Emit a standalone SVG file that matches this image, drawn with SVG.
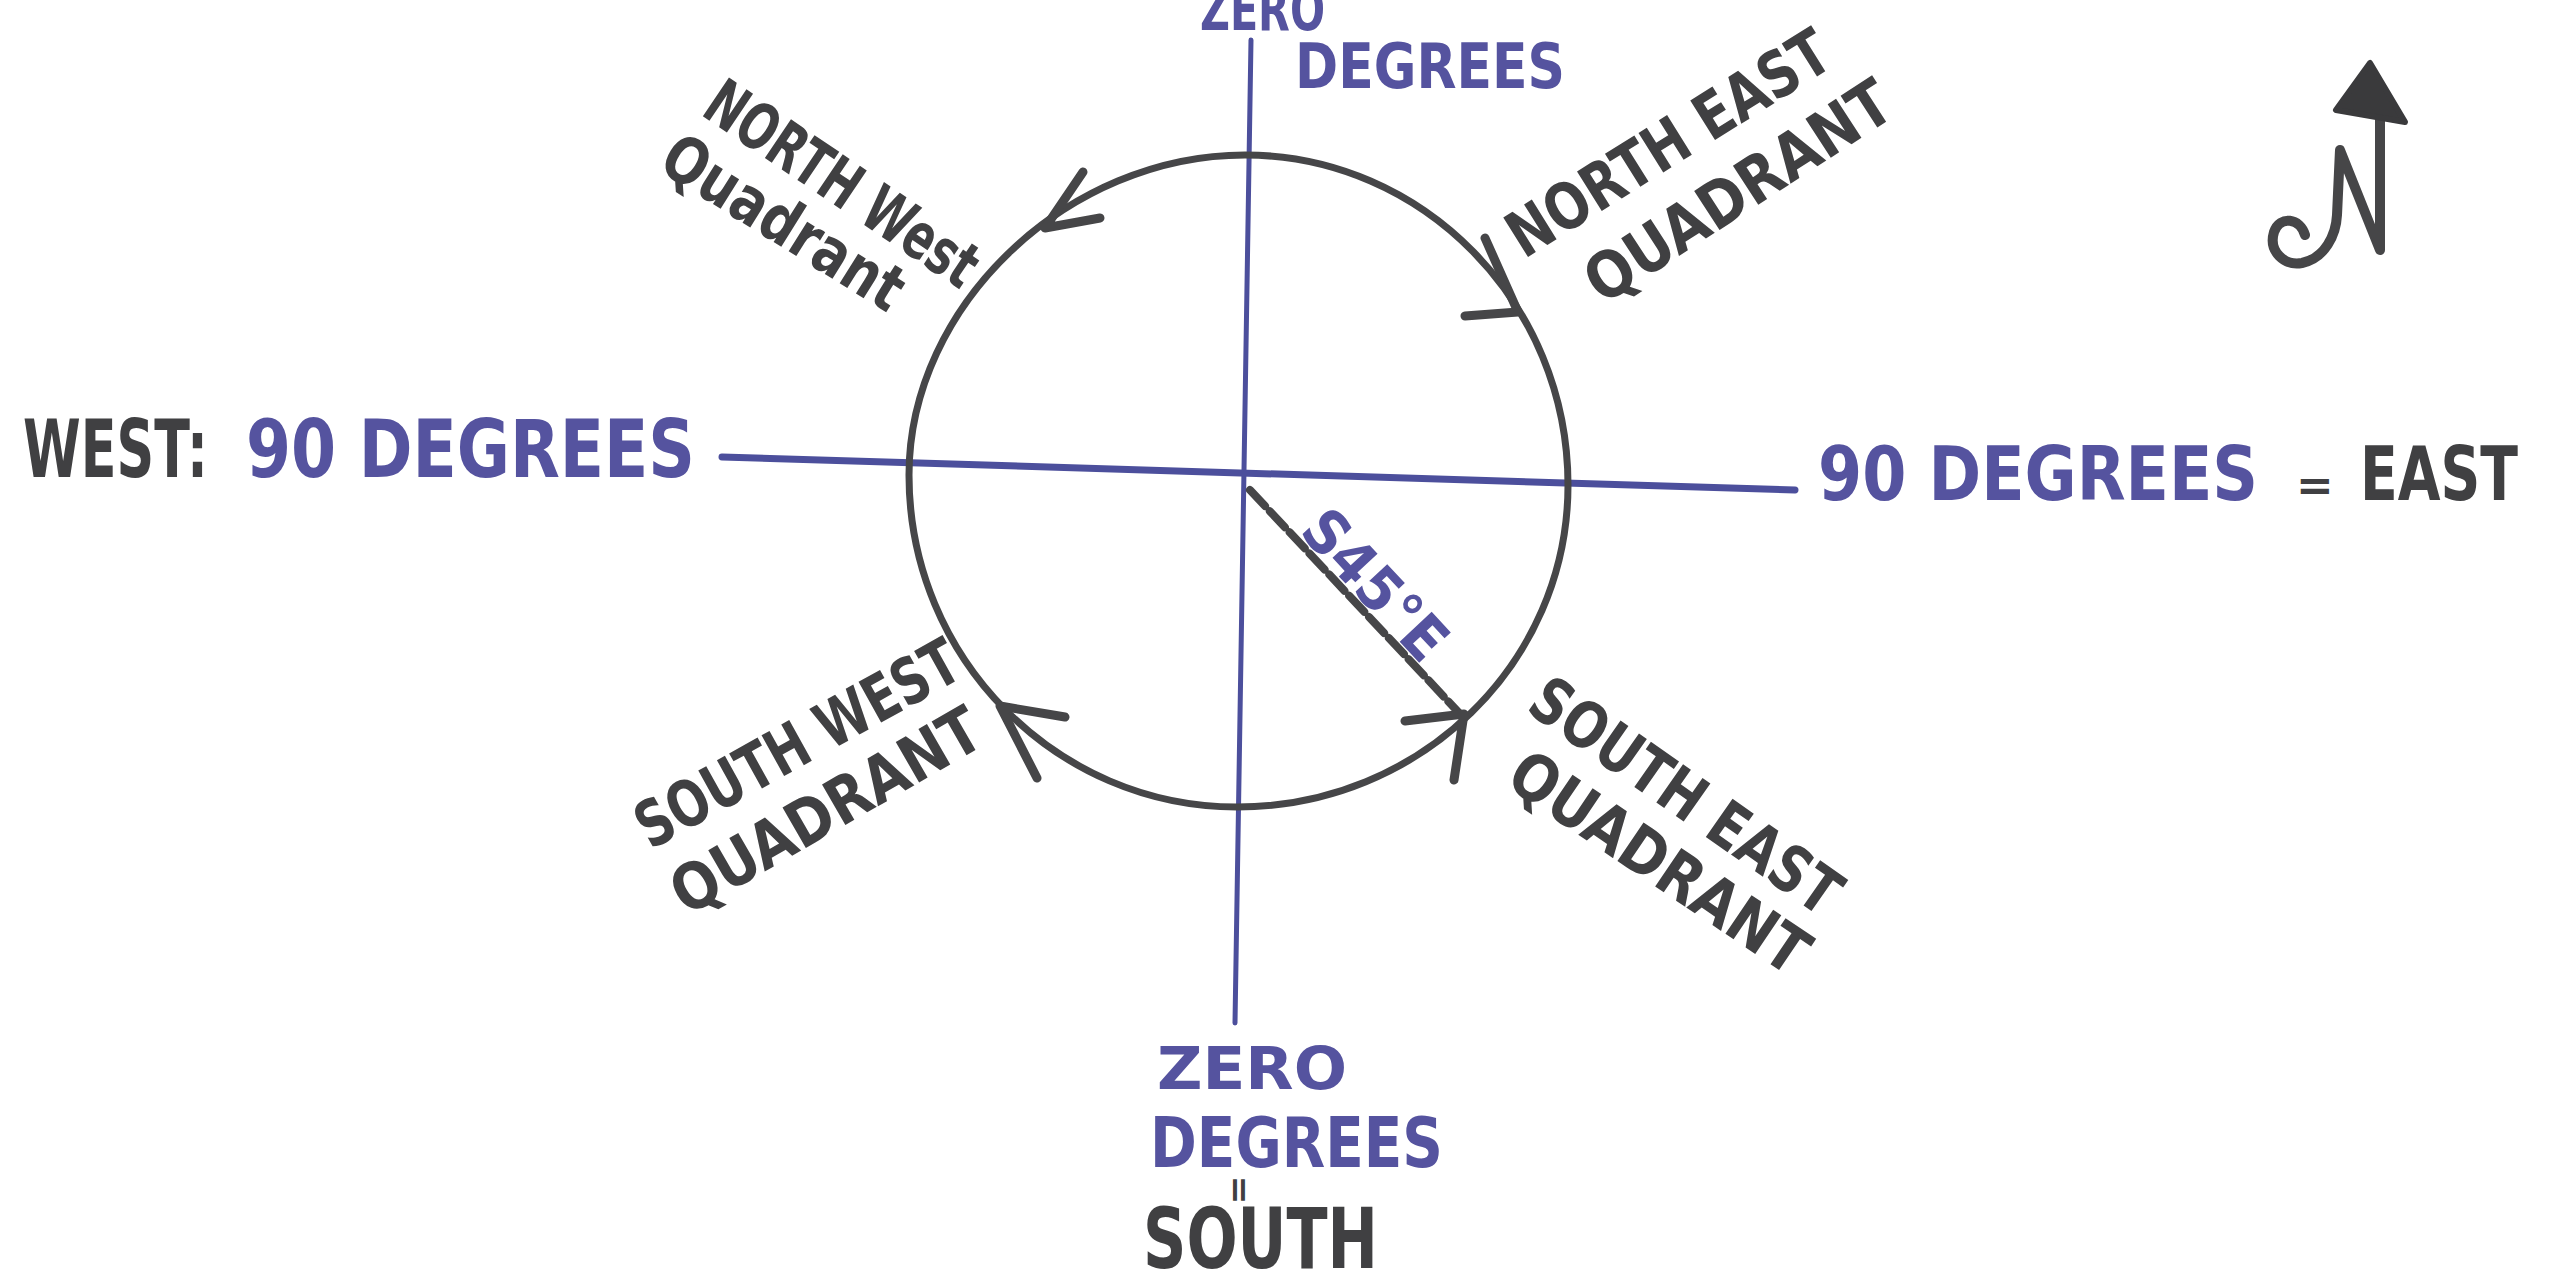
<svg xmlns="http://www.w3.org/2000/svg" width="2570" height="1276" viewBox="0 0 2570 1276">
<style>
.ink{fill:#404042;font-family:"DejaVu Sans","Liberation Sans",sans-serif;font-weight:bold}
.blue{fill:#55539f;font-family:"DejaVu Sans","Liberation Sans",sans-serif;font-weight:bold}
.axis{stroke:#4c4f9c;fill:none;stroke-linecap:round}
.pen{stroke:#464648;fill:none;stroke-linecap:round;stroke-linejoin:round}
</style>
<rect x="0" y="0" width="2570" height="1276" fill="#ffffff"/>

<g id="connectors">
  <line class="axis" x1="1251" y1="40" x2="1235" y2="1023" stroke-width="5"/>
  <line class="axis" x1="722" y1="457" x2="1795" y2="490" stroke-width="7"/>
  <line class="pen" x1="1250" y1="490" x2="1462" y2="716" stroke-width="8" stroke="#2f2f30" stroke-dasharray="22 7" stroke-linecap="butt"/>
</g>

<g id="circle">
  <path class="pen" stroke-width="7" d="M1245,155 C1423,155 1568,303 1568,485 C1568,663 1420,807 1237,807 C1056,807 909,658 909,475 C909,305 1068,155 1245,155 Z"/>
</g>

<g id="quadrant-arrows">
  <polyline class="pen" stroke-width="9" points="1083,172 1045,228 1100,218"/>
  <polyline class="pen" stroke-width="9" points="1485,238 1518,312 1465,316"/>
  <polyline class="pen" stroke-width="9" points="1065,717 1000,706 1037,778"/>
  <polyline class="pen" stroke-width="9" points="1405,721 1464,714 1454,780"/>
</g>

<g id="north-zero">
  <text class="blue" transform="translate(1200,30) scale(1,1.43)" font-size="41.3" textLength="125" lengthAdjust="spacingAndGlyphs">ZERO</text>
  <text class="blue" transform="translate(1295,88) scale(1,1.19)" font-size="52" textLength="270" lengthAdjust="spacingAndGlyphs">DEGREES</text>
</g>

<g id="west-label">
  <text class="ink" transform="translate(23,477) scale(1,1.57)" font-size="51.6" textLength="185" lengthAdjust="spacingAndGlyphs">WEST:</text>
  <text class="blue" transform="translate(246,477) scale(1,1.25)" font-size="64.8" textLength="449" lengthAdjust="spacingAndGlyphs">90 DEGREES</text>
</g>

<g id="east-label">
  <text class="blue" transform="translate(1818,500) scale(1,1.19)" font-size="63.5" textLength="440" lengthAdjust="spacingAndGlyphs">90 DEGREES</text>
  <text class="ink" x="2296" y="500" font-size="45">=</text>
  <text class="ink" transform="translate(2360,500) scale(1,1.36)" font-size="55.2" textLength="158" lengthAdjust="spacingAndGlyphs">EAST</text>
</g>

<g id="south-zero">
  <text class="blue" transform="translate(1157,1089) scale(1,0.94)" font-size="62.7" textLength="190" lengthAdjust="spacingAndGlyphs">ZERO</text>
  <text class="blue" transform="translate(1150,1167) scale(1,1.24)" font-size="56.5" textLength="293" lengthAdjust="spacingAndGlyphs">DEGREES</text>
  <text class="ink" transform="translate(1228,1190) rotate(90)" font-size="34" text-anchor="middle">=</text>
  <text class="ink" transform="translate(1143,1268) scale(1,1.38)" font-size="60.2" textLength="235" lengthAdjust="spacingAndGlyphs">SOUTH</text>
</g>

<g id="nw-quadrant">
  <text class="ink" transform="translate(830,202) rotate(34) scale(1,1.46)" font-size="43.9" text-anchor="middle" textLength="315" lengthAdjust="spacingAndGlyphs">NORTH West</text>
  <text class="ink" transform="translate(772,241) rotate(32) scale(1,1.245)" font-size="51.4" text-anchor="middle" textLength="273" lengthAdjust="spacingAndGlyphs">Quadrant</text>
</g>

<g id="ne-quadrant">
  <text class="ink" transform="translate(1680,162) rotate(-32) scale(1,1.31)" font-size="48.9" text-anchor="middle" textLength="368" lengthAdjust="spacingAndGlyphs">NORTH  EAST</text>
  <text class="ink" transform="translate(1750,210) rotate(-33) scale(1,1.15)" font-size="55.6" text-anchor="middle" textLength="352" lengthAdjust="spacingAndGlyphs">QUADRANT</text>
</g>

<g id="sw-quadrant">
  <text class="ink" transform="translate(808,763) rotate(-29) scale(1,1.32)" font-size="48.4" text-anchor="middle" textLength="360" lengthAdjust="spacingAndGlyphs">SOUTH WEST</text>
  <text class="ink" transform="translate(837,830) rotate(-30) scale(1,1.17)" font-size="54.8" text-anchor="middle" textLength="347" lengthAdjust="spacingAndGlyphs">QUADRANT</text>
</g>

<g id="se-quadrant">
  <text class="ink" transform="translate(1673,814) rotate(35) scale(1,1.25)" font-size="51.1" text-anchor="middle" textLength="363" lengthAdjust="spacingAndGlyphs">SOUTH EAST</text>
  <text class="ink" transform="translate(1647,881) rotate(34) scale(1,1.17)" font-size="54.7" text-anchor="middle" textLength="346" lengthAdjust="spacingAndGlyphs">QUADRANT</text>
</g>

<g id="bearing-label">
  <text class="blue" transform="translate(1360,599) rotate(47) scale(1,1.087)" font-size="55.2" text-anchor="middle" textLength="182" lengthAdjust="spacingAndGlyphs">S45°E</text>
</g>

<g id="north-arrow">
  <path class="pen" stroke="#3a3a3c" stroke-width="10" d="M2305,235 C2300,218 2280,215 2274,232 C2268,252 2285,266 2302,263 C2325,258 2336,235 2337,215 L2340,150 L2380,250 L2380,112"/>
  <polygon points="2370,63 2336,110 2405,122" fill="#3a3a3c" stroke="#3a3a3c" stroke-width="6" stroke-linejoin="round"/>
</g>
</svg>
